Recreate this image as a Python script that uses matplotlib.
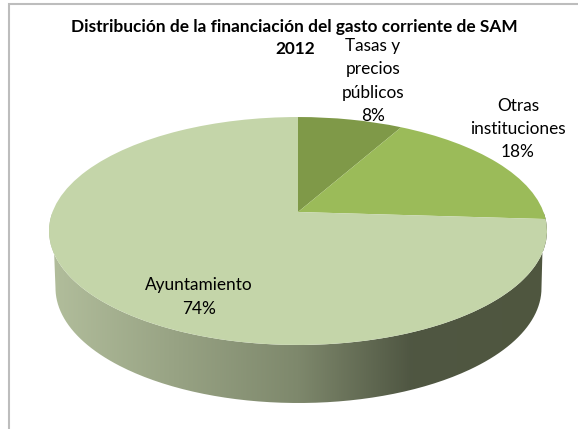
import numpy as np
import matplotlib
matplotlib.use("Agg")
import matplotlib.pyplot as plt
from matplotlib.colors import LinearSegmentedColormap
from matplotlib.patches import PathPatch
from matplotlib.path import Path
from matplotlib.transforms import Transform

categories = ["Tasas y\nprecios\npúblicos", "Otras\ninstituciones", "Ayuntamiento"]
values = [8, 18, 74]
colors = ["#7F9948", "#9BBB59", "#C4D5A9"]
title_lines = ["Distribución de la financiación del gasto corriente de SAM", "2012"]

CX, CY, A, B, K = 298.0, 212.0, 245.5, 110.8, 0.1667


class Perspective(Transform):
    input_dims = output_dims = 2
    is_separable = False
    has_inverse = False

    def transform_non_affine(self, xy):
        xy = np.asarray(xy, dtype=float)
        d = 1 + K * xy[:, 1]
        return np.column_stack([CX + A * xy[:, 0] / d, CY - B * xy[:, 1] / d])


fig = plt.figure(figsize=(5.78, 4.29), dpi=100, facecolor="white")
ax = fig.add_axes([0, 0, 1, 1])
wedges, _ = ax.pie(values, startangle=90, counterclock=False, colors=colors,
                   wedgeprops={"linewidth": 0}, radius=1)
ax.set_aspect("auto")
ax.axis("off")

persp = Perspective()
for w in wedges:
    w.set_transform(persp + ax.transData)
    w.set_zorder(3)

# side band: lower half of the top rim joined to the lower half of the base rim
t = np.linspace(np.pi, 2 * np.pi, 200)
top_rim = Perspective().transform_non_affine(np.column_stack([np.cos(t), np.sin(t)]))
base = np.column_stack([298.5 + 243 * np.cos(t), 288 - 115 * np.sin(t)])
poly = np.vstack([top_rim, base[::-1], top_rim[:1]])
clip = PathPatch(Path(poly), transform=ax.transData, facecolor="none", edgecolor="none")
ax.add_patch(clip)
cmap = LinearSegmentedColormap.from_list(
    "side", [(0, "#B2BE9C"), (0.5, "#7E886C"), (0.73, "#4F5642"), (1, "#50573F")])
img = ax.imshow(np.linspace(0, 1, 256)[None, :], cmap=cmap, extent=(49, 547, 430, 200),
                aspect="auto", zorder=2)
img.set_clip_path(clip)
ax.set_xlim(0, 578)
ax.set_ylim(429, 0)

# chart frame: only the top and left edges fall inside the picture
ax.plot([8.7, 8.7, 578], [429, 3.7, 3.7], color="#BDBDBD", linewidth=1.5, zorder=1,
        solid_joinstyle="miter")

font = "Lato"
ax.text(294, 27, title_lines[0], ha="center", va="center", fontsize=12.4, fontweight="bold",
        family=font, color="black", zorder=5)
ax.text(295, 49, title_lines[1], ha="center", va="center", fontsize=12.4, fontweight="bold",
        family=font, color="black", zorder=5)

label_pos = [(373, 81), (518, 129), (199, 297)]
for name, val, (x, y) in zip(categories, values, label_pos):
    ax.text(x, y, f"{name}\n{val}%", ha="center", va="center", fontsize=12.4, family=font,
            linespacing=1.57, color="black", zorder=5)

fig.savefig("out.png", dpi=100)
